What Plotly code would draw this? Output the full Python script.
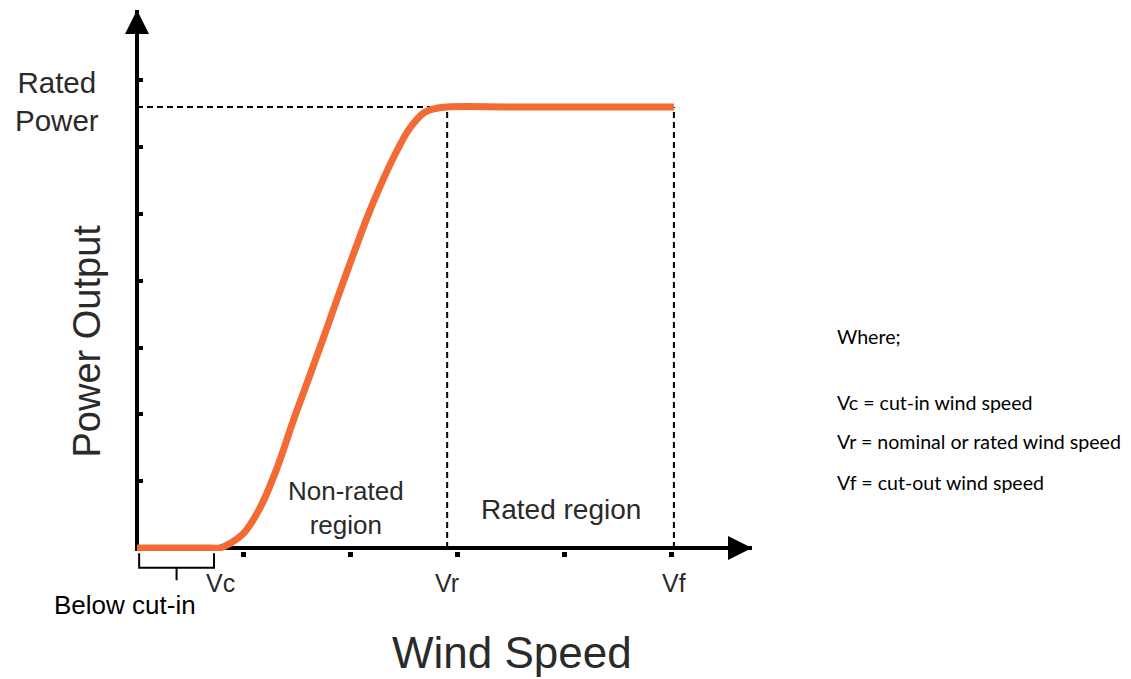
import plotly.graph_objects as go

# ---- data ----
wind_speed = [0, 0.70, 0.776, 0.99, 1.15, 1.31, 1.46, 1.62, 1.76, 1.87, 2.04, 2.15,
              2.27, 2.41, 2.55, 2.69, 2.80, 2.90, 3.5, 4.2, 5.02]
power_out = [0, 0, 0, 0.21, 0.60, 1.20, 1.90, 2.60, 3.22, 3.72, 4.47, 4.94,
             5.40, 5.88, 6.28, 6.52, 6.58, 6.6, 6.6, 6.6, 6.6]
v_cut_in = 0.78
v_rated = 2.90
v_cut_out = 5.02
rated_power = 6.6
x_ticks = [1, 2, 3, 4, 5]
y_ticks = [1, 2, 3, 4, 5, 6, 7]
x_range = [-0.0187, 5.75]
y_range = [-0.045, 8.05]
speed_labels = ["Vc", "Vr", "Vf"]
legend_lines = ["Where;", "Vc = cut-in wind speed",
                "Vr = nominal or rated wind speed", "Vf = cut-out wind speed"]

ORANGE = "#F26B35"
TXT = "#2a2a2a"
FONT = "Liberation Sans"

fig = go.Figure()

# dashed guide lines
dash_style = dict(color="black", width=2, dash="6px,4px")
fig.add_trace(go.Scatter(x=[0, v_rated], y=[rated_power, rated_power], mode="lines",
                         line=dash_style, hoverinfo="skip", showlegend=False))
for v in (v_rated, v_cut_out):
    fig.add_trace(go.Scatter(x=[v, v], y=[0, rated_power], mode="lines",
                             line=dash_style, hoverinfo="skip", showlegend=False))

# power curve
fig.add_trace(go.Scatter(x=wind_speed, y=power_out, mode="lines",
                         line=dict(color=ORANGE, width=7, shape="spline", smoothing=1.0),
                         showlegend=False))

x_max, y_max = x_range[1], y_range[1]
annotations = []
# arrow heads at the ends of the axes (axes drawn as zero lines)
annotations.append(dict(x=x_max, y=0, ax=x_max - 0.3, ay=0, xref="x", yref="y",
                        axref="x", ayref="y", text="", showarrow=True,
                        arrowhead=2, arrowsize=1.2, arrowwidth=4, arrowcolor="black"))
annotations.append(dict(x=0, y=y_max, ax=0, ay=y_max - 0.5, xref="x", yref="y",
                        axref="x", ayref="y", text="", showarrow=True,
                        arrowhead=2, arrowsize=1.2, arrowwidth=4, arrowcolor="black"))

# speed labels
for lab, v in zip(speed_labels, (v_cut_in, v_rated, v_cut_out)):
    annotations.append(dict(x=v, y=0, xref="x", yref="y", yshift=-35, text=lab,
                            showarrow=False, font=dict(family=FONT, size=25, color=TXT)))

annotations += [
    dict(x=0, y=rated_power, xref="x", yref="y", xanchor="right", xshift=-36, yshift=5,
         text="Rated<br>Power", showarrow=False, align="center",
         font=dict(family=FONT, size=29.5, color=TXT)),
    dict(x=0, y=3.09, xref="x", yref="y", xshift=-50, textangle=-90,
         text="Power Output", showarrow=False, font=dict(family=FONT, size=38, color=TXT)),
    dict(x=3.51, y=0, xref="x", yref="y", yshift=-105,
         text="Wind Speed", showarrow=False, font=dict(family=FONT, size=44, color=TXT)),
    dict(x=v_cut_in / 2, y=0, xref="x", yref="y", xshift=-54, yshift=-57,
         text="Below cut-in", showarrow=False, font=dict(family=FONT, size=26, color="black")),
    dict(x=1.95, y=0.6, xref="x", yref="y", text="Non-rated<br>region", showarrow=False,
         font=dict(family=FONT, size=26, color=TXT)),
    dict(x=(v_rated + v_cut_out) / 2, y=0.58, xref="x", yref="y", text="Rated region",
         showarrow=False, font=dict(family=FONT, size=28, color=TXT)),
]

# right-hand explanation
legend_y = [0.3956, 0.2754, 0.2015, 0.1275]
for line, yy in zip(legend_lines, legend_y):
    annotations.append(dict(x=1.1345, y=yy, xref="paper", yref="paper", xanchor="left",
                            yanchor="middle", text=line, showarrow=False,
                            font=dict(family="Lato", size=19.6, color="black")))

# brace under the "below cut-in" segment
b0, b1 = 0.02, v_cut_in - 0.06
bm = (b0 + b1) / 2
brace = (f"M {b0},-0.004 L {b0},-0.031 L {b1},-0.031 L {b1},-0.004 "
         f"M {bm},-0.031 L {bm},-0.054")
shapes = [dict(type="path", xref="x", yref="paper", path=brace,
               line=dict(color="black", width=2))]

axis_common = dict(showticklabels=False, showgrid=False, showline=False,
                   zeroline=True, zerolinewidth=4, zerolinecolor="black",
                   tickcolor="black", layer="below traces")
fig.update_layout(
    width=1131, height=679,
    margin=dict(l=127, r=387, t=2, b=136),
    paper_bgcolor="white", plot_bgcolor="white",
    xaxis=dict(range=x_range, tickvals=x_ticks, ticks="outside", ticklen=5, tickwidth=5,
               **axis_common),
    yaxis=dict(range=y_range, tickvals=y_ticks, ticks="inside", ticklen=8, tickwidth=4,
               **axis_common),
    annotations=annotations, shapes=shapes, showlegend=False,
)

fig.write_html("out.html")
